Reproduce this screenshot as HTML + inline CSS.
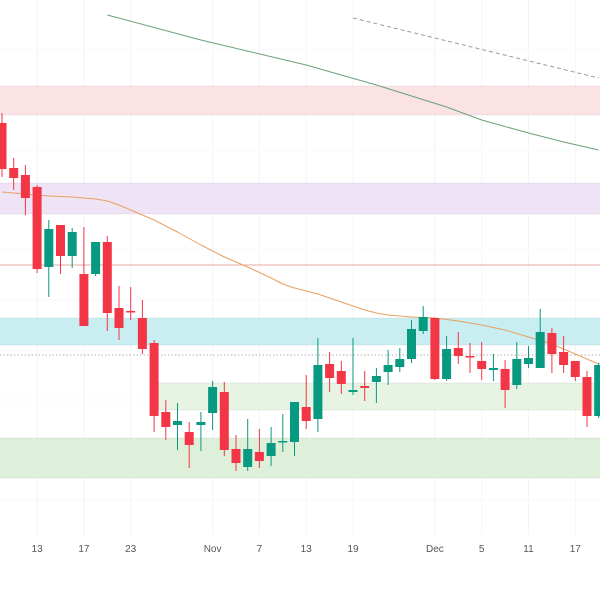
<!DOCTYPE html>
<html><head><meta charset="utf-8"><style>
html,body{margin:0;padding:0;background:#fff;}
svg{display:block;font-family:"Liberation Sans",sans-serif;}
</style></head><body>
<svg id="chart" width="600" height="600" viewBox="0 0 600 600" xmlns="http://www.w3.org/2000/svg">
<g id="grid"></g>
<g id="zones"></g>
<g id="lines"></g>
<g id="candles"></g>
<g id="xaxis"></g>
</svg>
<script>
// values expressed in price units (higher = up)
const opens  = [477,432,425,413,333,375,344,326,326,358,292,289,282,257,188,175,168,175,187,208,151,133,148,144,158,158,193,181,236,229,208,214,218,228,233,241,269,282,221,252,244,239,230,231,215,236,232,267,248,239,223,184];
const closes = [431,422,402,331,371,344,368,274,358,287,272,288,251,184,173,179,155,178,213,150,137,151,139,157,159,198,179,235,222,216,210,212,224,235,241,271,283,221,251,244,243,231,232,210,241,242,268,246,235,223,184,235];
const highs  = [487,442,435,415,380,375,372,373,358,364,314,313,300,260,200,197,178,188,219,218,165,181,171,173,186,198,225,262,248,239,262,229,232,250,252,280,294,282,264,268,257,258,246,240,258,254,291,272,264,239,229,237];
const lows   = [423,410,385,327,303,326,332,316,324,269,260,280,246,168,160,150,132,149,170,144,129,129,132,134,148,144,171,168,208,206,205,199,197,215,228,237,266,220,219,236,227,220,219,192,211,232,232,227,227,219,173,182];
const dates  = [12,13,14,15,16,17,18,19,20,21,22,23,24,25,26,27,28,29,30,31,32,33,34,35,36,37,38,39,40,41,42,43,44,45,46,47,48,49,50,51,52,53,54,55,56,57,58,59,60,61,62,63];
const tickLabels = ["13","17","23","Nov","7","13","19","Dec","5","11","17"];
const tickDates  = [15,19,23,30,34,38,42,49,53,57,61];
const orangeMA = [[12,408],[14,406],[16,404],[18,403],[19,402],[20,401],[21,399],[22,395],[23,390],[25,380],[27,368],[29,355],[31,343],[33,333],[35,322],[36,316],[37,312],[38,309],[39,306],[40,302],[41,298],[42,294],[43,290],[44,287],[45,285],[47,283],[49,282],[51,279],[53,275],[55,270],[57,263],[59,256],[60,251],[61,246],[62,241],[63,236]];
const greenMA  = [[21,585],[29,560],[38,535],[44,515],[50,493],[53,480],[57,467],[60,458],[63,450]];
const dashedTrend = [[42,582],[63,522]];
const zoneBands = [[514,485,"#fbe3e5","pink-zone",12],[417,386,"#efe3f6","purple-zone",12],[282,255,"#c8eef2","cyan-zone",12],[217,190,"#e7f4e4","light-green-zone",25.5],[162,122,"#dff0da","green-zone",12]];
const levelLines = [[335,"#e8a8a0","red-level",false],[245,"#b0b0b0","dotted-level",true]];

const NS="http://www.w3.org/2000/svg";
const X0=2, DX=11.7, D0=12;
const xs=d=>X0+(d-D0)*DX;
const ys=v=>600-v;
function mk(tag,attrs,parent){const e=document.createElementNS(NS,tag);for(const k in attrs)e.setAttribute(k,attrs[k]);parent.appendChild(e);return e;}
const grid=document.getElementById('grid'),zones=document.getElementById('zones'),lines=document.getElementById('lines'),cg=document.getElementById('candles'),xa=document.getElementById('xaxis');

tickDates.forEach((d,i)=>{
  const l=mk('line',{x1:xs(d),x2:xs(d),y1:0,y2:535,stroke:'#f2f4f9','stroke-width':1},grid);
  
  
  const t=mk('text',{x:xs(d),y:552,'text-anchor':'middle','font-size':10,fill:'#555'},xa);
  t.textContent=tickLabels[i];
  
  
});
[50,100,150,200,250,300,350,400,450,500].forEach(y=>{
  const l=mk('line',{x1:0,x2:600,y1:y,y2:y,stroke:'#f7f8fb','stroke-width':1},grid);
  
  
});
zoneBands.forEach(z=>{
  const x=xs(z[4])-2;
  const r=mk('rect',{x:x,y:ys(z[0]),width:600-x,height:z[0]-z[1],fill:z[2],stroke:z[2],'stroke-width':0},zones);
  
  
  mk('line',{x1:x,x2:600,y1:ys(z[0]),y2:ys(z[0]),stroke:'rgba(0,0,0,0.06)'},zones);
  mk('line',{x1:x,x2:600,y1:ys(z[1]),y2:ys(z[1]),stroke:'rgba(0,0,0,0.06)'},zones);
});
levelLines.forEach(lv=>{
  const l=mk('line',{x1:0,x2:600,y1:ys(lv[0]),y2:ys(lv[0]),stroke:lv[1],'stroke-width':1},lines);
  if(lv[3])l.setAttribute('stroke-dasharray','1.5,2');
  
  
});
function poly(pts,color,name,dash){
  const p=mk('polyline',{points:pts.map(q=>xs(q[0])+','+ys(q[1])).join(' '),fill:'none',stroke:color,'stroke-width':1,'stroke-linejoin':'round'},lines);
  if(dash)p.setAttribute('stroke-dasharray','4,3');
  
  
}
poly(orangeMA,'#e8a060','orange-moving-average');
poly(greenMA,'#6aa276','green-moving-average');
poly(dashedTrend,'#999','dashed-trendline',true);

dates.forEach((d,i)=>{
  const up=closes[i]>=opens[i];
  const col=up?'#089981':'#f23645';
  const x=xs(d);
  const g=mk('g',{},cg);
  
  
  mk('line',{x1:x,x2:x,y1:ys(highs[i]),y2:ys(lows[i]),stroke:col,'stroke-width':1},g);
  const top=ys(Math.max(opens[i],closes[i])),bot=ys(Math.min(opens[i],closes[i]));
  mk('rect',{x:x-4.5,y:top,width:9,height:Math.max(1.5,bot-top),fill:col},g);
});
</script>
</body></html>
